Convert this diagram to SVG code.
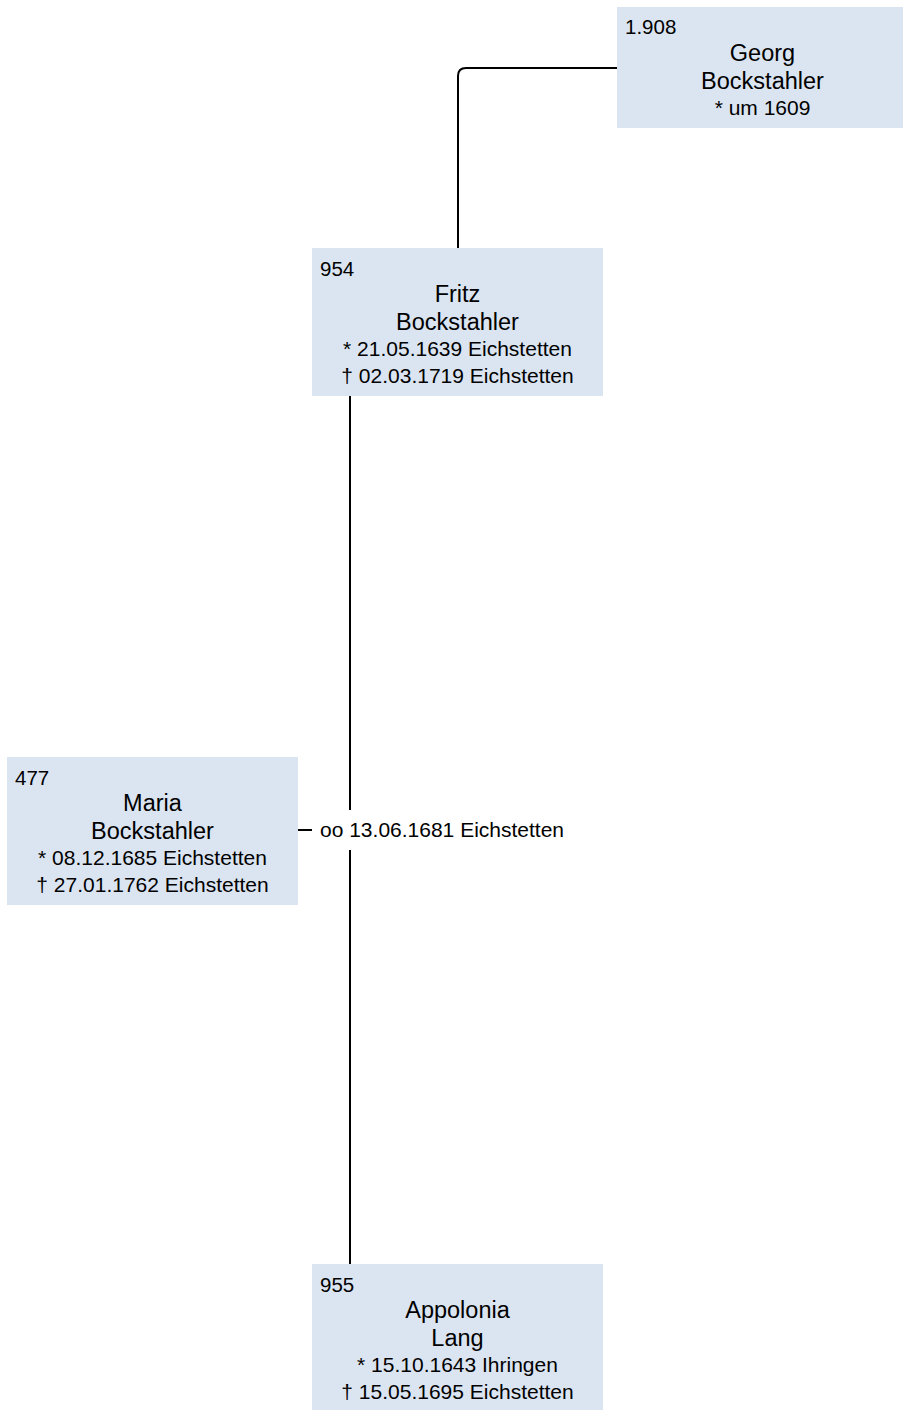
<svg xmlns="http://www.w3.org/2000/svg" width="903" height="1410" viewBox="0 0 903 1410">
<style>
.box{fill:#dbe5f1;stroke:none}
.num{font-family:"Liberation Sans",Arial,sans-serif;font-size:20.5px;fill:#000}
.name{font-family:"Liberation Sans",Arial,sans-serif;font-size:23.5px;fill:#000;text-anchor:middle}
.date{font-family:"Liberation Sans",Arial,sans-serif;font-size:21px;fill:#000;text-anchor:middle}
.lbl{font-family:"Liberation Sans",Arial,sans-serif;font-size:21px;fill:#000}
.con{fill:none;stroke:#000;stroke-width:2}
</style>
<rect width="903" height="1410" fill="#fff"/>
<g id="connectors">
<path class="con" d="M617 68 H466 Q458 68 458 76 V248"/>
<path class="con" d="M350 396 V810"/>
<path class="con" d="M350 850 V1264"/>
<path class="con" d="M298 830 H312"/>
<text class="lbl" x="320" y="837">oo 13.06.1681 Eichstetten</text>
</g>
<g id="n1908">
<rect class="box" x="617" y="7" width="291" height="121"/>
<text class="num" x="625" y="34">1.908</text>
<text class="name" x="762.5" y="61">Georg</text>
<text class="name" x="762.5" y="89">Bockstahler</text>
<text class="date" x="762.5" y="115">* um 1609</text>
</g>
<g id="n954">
<rect class="box" x="312" y="248" width="291" height="148"/>
<text class="num" x="320" y="276">954</text>
<text class="name" x="457.5" y="302">Fritz</text>
<text class="name" x="457.5" y="330">Bockstahler</text>
<text class="date" x="457.5" y="356">* 21.05.1639 Eichstetten</text>
<text class="date" x="457.5" y="383">† 02.03.1719 Eichstetten</text>
</g>
<g id="n477">
<rect class="box" x="7" y="757" width="291" height="148"/>
<text class="num" x="15" y="785">477</text>
<text class="name" x="152.5" y="811">Maria</text>
<text class="name" x="152.5" y="839">Bockstahler</text>
<text class="date" x="152.5" y="865">* 08.12.1685 Eichstetten</text>
<text class="date" x="152.5" y="892">† 27.01.1762 Eichstetten</text>
</g>
<g id="n955">
<rect class="box" x="312" y="1264" width="291" height="148"/>
<text class="num" x="320" y="1292">955</text>
<text class="name" x="457.5" y="1318">Appolonia</text>
<text class="name" x="457.5" y="1346">Lang</text>
<text class="date" x="457.5" y="1372">* 15.10.1643 Ihringen</text>
<text class="date" x="457.5" y="1399">† 15.05.1695 Eichstetten</text>
</g>
</svg>
